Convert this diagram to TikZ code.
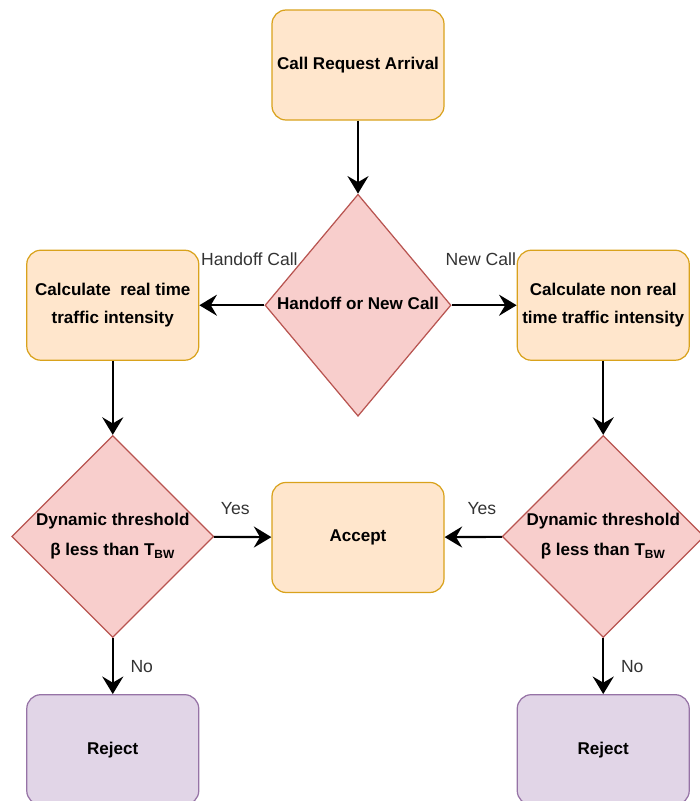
\documentclass[tikz,border=0pt]{standalone}
\usepackage{fontspec}
\setmainfont{Liberation Sans}
\usepackage{tikz}
\usetikzlibrary{shapes.geometric, arrows.meta, positioning}
\definecolor{procfill}{HTML}{FFE6CC}
\definecolor{procdraw}{HTML}{D9A21C}
\definecolor{decfill}{HTML}{F8CECC}
\definecolor{decdraw}{HTML}{B85450}
\definecolor{rejfill}{HTML}{E1D5E7}
\definecolor{rejdraw}{HTML}{9673A6}
% text of a diamond, kept out of its size
\newcommand{\dlines}[1]{\makebox[0pt]{\begin{tabular}{@{}c@{}}#1\end{tabular}}}

\begin{document}
\begin{tikzpicture}[
    node distance=1.3cm and 1.3cm,
    box/.style={rectangle, rounded corners=8pt, minimum width=3.44cm,
                minimum height=2.2cm, inner xsep=1pt, align=center,
                font=\fontsize{9.7pt}{12pt}\selectfont\bfseries, line width=0.7pt},
    proc/.style={box, fill=procfill, draw=procdraw},
    rej/.style={box, fill=rejfill, draw=rejdraw},
    decision/.style={diamond, fill=decfill, draw=decdraw, inner sep=0pt,
                     font=\fontsize{9.7pt}{12pt}\selectfont\bfseries, line width=0.7pt},
    arr/.style={-{Stealth[length=10pt, width=12pt, inset=3.5pt]}, line width=1.2pt},
    lbl/.style={inner sep=0pt, text=black!80},
]
\useasboundingbox (0,0) rectangle (14,-16.02);

% Top — arrival and call type
\node[proc] (arrival) at (7.16,-1.3) {Call Request Arrival};
\node[decision, minimum width=3.72cm, minimum height=4.44cm, below=1.46cm of arrival]
      (calltype) {\dlines{Handoff or New Call}};

% Traffic intensity
\node[proc, left=1.3cm of calltype]  (realtime) {Calculate\ \ real time\\[4pt]traffic intensity};
\node[proc, right=1.3cm of calltype] (nonreal)  {Calculate non real\\[4pt]time traffic intensity};

% Threshold checks
\node[decision, minimum width=4.04cm, minimum height=4.04cm, below=1.48cm of realtime]
      (thrleft) {\dlines{Dynamic threshold\\[5pt]β less than T\textsubscript{BW}}};
\node[decision, minimum width=4.04cm, minimum height=4.04cm, below=1.48cm of nonreal]
      (thrright) {\dlines{Dynamic threshold\\[5pt]β less than T\textsubscript{BW}}};

% Outcomes
\node[proc, below=1.3cm of calltype] (accept) {Accept};
\node[rej, below=1.12cm of thrleft]  (rejleft)  {Reject};
\node[rej, below=1.12cm of thrright] (rejright) {Reject};

% Arrows
\draw[arr] (arrival) -- (calltype);
\draw[arr] (calltype) -- node[lbl, pos=0.23, yshift=0.92cm]{Handoff Call} (realtime);
\draw[arr] (calltype) -- node[lbl, pos=0.45, yshift=0.92cm]{New Call} (nonreal);
\draw[arr] (realtime) -- (thrleft);
\draw[arr] (nonreal) -- (thrright);
\draw[arr] (thrleft) -- node[lbl, pos=0.37, yshift=0.56cm]{Yes} (accept);
\draw[arr] (thrright) -- node[lbl, pos=0.35, yshift=0.56cm]{Yes} (accept);
\draw[arr] (thrleft) -- node[lbl, midway, xshift=0.58cm]{No} (rejleft);
\draw[arr] (thrright) -- node[lbl, midway, xshift=0.58cm]{No} (rejright);

\end{tikzpicture}
\end{document}
